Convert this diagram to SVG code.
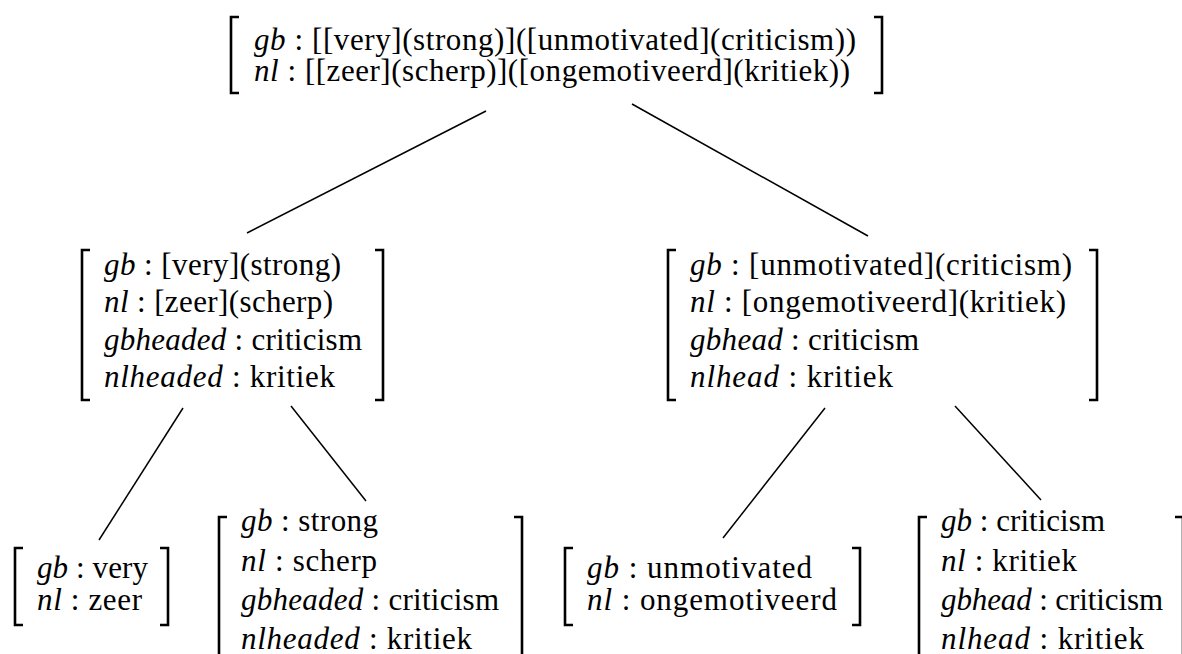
<svg xmlns="http://www.w3.org/2000/svg" width="1182" height="654" viewBox="0 0 1182 654" font-family="'Liberation Serif', 'DejaVu Serif', serif">
<style>
text{font-family:'Liberation Serif','DejaVu Serif',serif;font-size:31px;fill:#000}
.i{font-style:italic}
.br{fill:none;stroke:#000;stroke-width:2.6}
.c line{stroke:#000;stroke-width:1.5}
</style>
<rect width="1182" height="654" fill="#fff"/>
<g class="c" id="connectors">
<line x1="486" y1="111" x2="247" y2="233"/>
<line x1="632" y1="104" x2="868" y2="236"/>
<line x1="183" y1="408" x2="99" y2="540"/>
<line x1="291" y1="406" x2="366" y2="501"/>
<line x1="825" y1="408" x2="723" y2="538"/>
<line x1="955" y1="406" x2="1041" y2="500"/>
</g>
<g id="root">
<path class="br" d="M239 17H231V93H239M874 17H882V93H874"/>
<text x="254" y="50" textLength="602"><tspan class="i">gb</tspan> : [[very](strong)]([unmotivated](criticism))</text>
<text x="254" y="81" textLength="596"><tspan class="i">nl</tspan> : [[zeer](scherp)]([ongemotiveerd](kritiek))</text>
</g>
<g id="mid-left">
<path class="br" d="M90 250H82V400H90M375 250H383V400H375"/>
<text x="104" y="275" textLength="237"><tspan class="i">gb</tspan> : [very](strong)</text>
<text x="104" y="312" textLength="229"><tspan class="i">nl</tspan> : [zeer](scherp)</text>
<text x="104" y="350" textLength="258"><tspan class="i">gbheaded</tspan> : criticism</text>
<text x="104" y="387" textLength="231"><tspan class="i">nlheaded</tspan> : kritiek</text>
</g>
<g id="mid-right">
<path class="br" d="M676 250H668V400H676M1089 250H1097V400H1089"/>
<text x="690" y="275" textLength="382"><tspan class="i">gb</tspan> : [unmotivated](criticism)</text>
<text x="690" y="312" textLength="376"><tspan class="i">nl</tspan> : [ongemotiveerd](kritiek)</text>
<text x="690" y="350" textLength="229"><tspan class="i">gbhead</tspan> : criticism</text>
<text x="690" y="387" textLength="203"><tspan class="i">nlhead</tspan> : kritiek</text>
</g>
<g id="leaf-very">
<path class="br" d="M23 548H15V625H23M160 548H168V625H160"/>
<text x="37" y="578" textLength="111"><tspan class="i">gb</tspan> : very</text>
<text x="37" y="610" textLength="105"><tspan class="i">nl</tspan> : zeer</text>
</g>
<g id="leaf-strong">
<path class="br" d="M227 517H219V660M514 517H522V660"/>
<text x="241" y="531" textLength="137"><tspan class="i">gb</tspan> : strong</text>
<text x="241" y="571" textLength="136"><tspan class="i">nl</tspan> : scherp</text>
<text x="241" y="610" textLength="258"><tspan class="i">gbheaded</tspan> : criticism</text>
<text x="241" y="649" textLength="231"><tspan class="i">nlheaded</tspan> : kritiek</text>
</g>
<g id="leaf-unmotivated">
<path class="br" d="M573 548H565V625H573M852 548H860V625H852"/>
<text x="587" y="578" textLength="225"><tspan class="i">gb</tspan> : unmotivated</text>
<text x="587" y="610" textLength="250"><tspan class="i">nl</tspan> : ongemotiveerd</text>
</g>
<g id="leaf-criticism">
<path class="br" d="M927 517H919V660M1175 517H1183V660"/>
<text x="941" y="531" textLength="164"><tspan class="i">gb</tspan> : criticism</text>
<text x="941" y="571" textLength="136"><tspan class="i">nl</tspan> : kritiek</text>
<text x="941" y="610" textLength="222"><tspan class="i">gbhead</tspan> : criticism</text>
<text x="941" y="649" textLength="203"><tspan class="i">nlhead</tspan> : kritiek</text>
</g>
</svg>
